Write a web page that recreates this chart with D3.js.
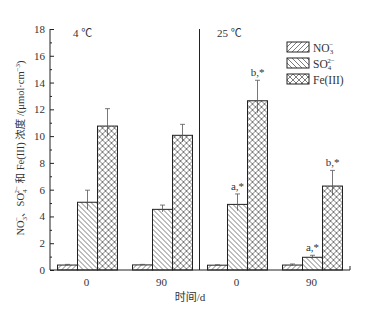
<!DOCTYPE html>
<html>
<head>
<meta charset="utf-8">
<script src="https://cdn.jsdelivr.net/npm/d3@7"></script>
<style>
	body { margin: 0; background: #fff; }
	svg { display: block; }
	text { font-family: "Liberation Serif", "Times New Roman", "Noto Sans CJK SC", serif; fill: #333; }
</style>
</head>
<body>
<div id="chart"></div>
<script>
// data
const panels = ["4 ℃", "25 ℃"];
const days = ["0", "90"];
const species = ["NO3", "SO4", "Fe"];
// values per panel, per day: [NO3, SO4, Fe]
const values4 = [[0.37, 5.06, 10.75], [0.38, 4.53, 10.06]];
const errors4 = [[0.05, 0.9, 1.3], [0.04, 0.32, 0.82]];
const values25 = [[0.36, 4.9, 12.64], [0.37, 0.95, 6.27]];
const errors25 = [[0.03, 0.78, 1.53], [0.08, 0.15, 1.17]];
const notes25 = [["", "a,*", "b,*"], ["", "a,*", "b,*"]];
const yTicks = [0, 2, 4, 6, 8, 10, 12, 14, 16, 18];

const width = 371, height = 315;
const margin = {left: 50, right: 21, top: 29, bottom: 45};
const plotW = width - margin.left - margin.right;
const plotH = height - margin.top - margin.bottom;

const svg = d3.select("#chart").append("svg")
	.attr("width", width)
	.attr("height", height);

// hatch patterns
const defs = svg.append("defs");
const addPattern = (id, size, paths) => {
	let p = defs.append("pattern")
		.attr("id", id)
		.attr("patternUnits", "userSpaceOnUse")
		.attr("width", size)
		.attr("height", size);
	p.append("rect").attr("width", size).attr("height", size).attr("fill", "#fff");
	paths.forEach(d => {
		p.append("path").attr("d", d).attr("stroke", "#444").attr("stroke-width", 0.7).attr("fill", "none");
	});
};
addPattern("hatchNO3", 5, ["M-1,1 L1,-1 M0,5 L5,0 M4,6 L6,4"]);
addPattern("hatchSO4", 5, ["M-1,4 L1,6 M0,0 L5,5 M4,-1 L6,1"]);
addPattern("hatchFe", 6, ["M0,0 L6,6 M6,0 L0,6"]);
const fills = {NO3: "url(#hatchNO3)", SO4: "url(#hatchSO4)", Fe: "url(#hatchFe)"};

const g = svg.append("g").attr("transform", "translate(" + margin.left + "," + margin.top + ")");

const y = d3.scaleLinear().domain([0, 18]).range([plotH, 0]);
const panelX = d3.scaleBand().domain(panels).range([0, plotW]);
const dayX = d3.scaleBand().domain(days).range([0, panelX.bandwidth()]).paddingInner(0.2).paddingOuter(0.1);
const spX = d3.scaleBand().domain(species).range([0, dayX.bandwidth()]);

const drawPanel = (name, vals, errs, notes) => {
	let pg = g.append("g").attr("transform", "translate(" + panelX(name) + ",0)");
	days.forEach((day, di) => {
		let dg = pg.append("g").attr("transform", "translate(" + dayX(day) + ",0)");
		let rows = species.map((s, si) => ({s: s, v: vals[di][si], e: errs[di][si], note: notes ? notes[di][si] : ""}));

		dg.selectAll("rect.bar")
			.data(rows)
			.enter().append("rect")
			.attr("class", "bar")
			.attr("x", d => spX(d.s))
			.attr("y", d => y(d.v))
			.attr("width", spX.bandwidth())
			.attr("height", d => plotH - y(d.v))
			.attr("fill", d => fills[d.s])
			.attr("stroke", "#222")
			.attr("stroke-width", 1);

		let eb = dg.selectAll("g.err")
			.data(rows)
			.enter().append("g")
			.attr("class", "err");
		eb.append("line")
			.attr("x1", d => spX(d.s) + spX.bandwidth() / 2)
			.attr("x2", d => spX(d.s) + spX.bandwidth() / 2)
			.attr("y1", d => y(d.v + d.e))
			.attr("y2", d => y(d.v) + Math.min(12, (y(d.v + d.e) - y(d.v)) * -0.6))
			.attr("stroke", "#555")
			.attr("stroke-width", 0.8);
		eb.append("line")
			.attr("x1", d => spX(d.s) + spX.bandwidth() / 2 - 2.5)
			.attr("x2", d => spX(d.s) + spX.bandwidth() / 2 + 2.5)
			.attr("y1", d => y(d.v + d.e))
			.attr("y2", d => y(d.v + d.e))
			.attr("stroke", "#555")
			.attr("stroke-width", 0.8);

		dg.selectAll("text.note")
			.data(rows.filter(d => d.note))
			.enter().append("text")
			.attr("class", "note")
			.attr("x", d => spX(d.s) + spX.bandwidth() / 2)
			.attr("y", d => y(d.v + d.e) - 4)
			.attr("text-anchor", "middle")
			.attr("font-size", 11)
			.text(d => d.note);

		pg.append("text")
			.attr("x", dayX(day) + dayX.bandwidth() / 2 - 1)
			.attr("y", plotH + 16)
			.attr("text-anchor", "middle")
			.attr("font-size", 11)
			.text(day);
	});
	pg.append("text")
		.attr("x", name === panels[0] ? 23 : 17)
		.attr("y", 8)
		.attr("font-size", 11)
		.text(name);
};

drawPanel(panels[0], values4, errors4, null);
drawPanel(panels[1], values25, errors25, notes25);

// y axis, ticks inside
const yAxis = d3.axisRight(y).tickValues(yTicks).tickSize(4).tickFormat("");
g.append("g").call(yAxis).call(a => a.select(".domain").remove());
g.append("g").call(d3.axisRight(y).tickValues(d3.range(1, 18, 2)).tickSize(2).tickFormat(""))
	.call(a => a.select(".domain").remove());
g.append("line").attr("x1", 0).attr("x2", 0).attr("y1", 0).attr("y2", plotH).attr("stroke", "#222");
g.selectAll("text.ytick")
	.data(yTicks)
	.enter().append("text")
	.attr("class", "ytick")
	.attr("x", -5)
	.attr("y", d => y(d) + 4)
	.attr("text-anchor", "end")
	.attr("font-size", 11)
	.text(d => d);
g.selectAll(".tick line").attr("stroke", "#222");

// x axis baseline and divider
g.append("line").attr("x1", 0).attr("x2", plotW).attr("y1", plotH).attr("y2", plotH).attr("stroke", "#222");
g.append("line").attr("x1", plotW).attr("x2", plotW).attr("y1", plotH).attr("y2", plotH - 4).attr("stroke", "#222");
g.append("line")
	.attr("x1", panelX(panels[1]) - 0.5).attr("x2", panelX(panels[1]) - 0.5)
	.attr("y1", 0).attr("y2", plotH)
	.attr("stroke", "#222");

// x title
svg.append("text")
	.attr("x", 190)
	.attr("y", 301)
	.attr("text-anchor", "middle")
	.attr("font-size", 11)
	.text("时间/d");

// y title
const yt = svg.append("text")
	.attr("transform", "translate(24," + 148 + ") rotate(-90)")
	.attr("text-anchor", "middle")
	.attr("font-size", 10.5);
yt.append("tspan").text("NO");
yt.append("tspan").attr("font-size", 7).attr("dy", 3).text("3");
yt.append("tspan").attr("font-size", 7).attr("dx", -4).attr("dy", -8).text("−");
yt.append("tspan").attr("dy", 5).text("、SO");
yt.append("tspan").attr("font-size", 7).attr("dy", 3).text("4");
yt.append("tspan").attr("font-size", 7).attr("dx", -4).attr("dy", -8).text("2−");
yt.append("tspan").attr("dy", 5).text(" 和 Fe(III) 浓度 /(μmol·cm");
yt.append("tspan").attr("font-size", 7).attr("dy", -4).text("−3");
yt.append("tspan").attr("dy", 4).text(")");

// legend
const legendNames = [["NO", "3", "−"], ["SO", "4", "2−"], ["Fe(III)", "", ""]];
const lg = svg.append("g").attr("transform", "translate(287,42)");
species.forEach((s, i) => {
	let row = lg.append("g").attr("transform", "translate(0," + i * 16 + ")");
	row.append("rect")
		.attr("width", 22)
		.attr("height", 10)
		.attr("fill", fills[s])
		.attr("stroke", "#222")
		.attr("stroke-width", 1);
	let t = row.append("text").attr("x", 26).attr("y", 9.5).attr("font-size", 11.5);
	t.append("tspan").text(legendNames[i][0]);
	if (legendNames[i][1]) {
		t.append("tspan").attr("font-size", 7).attr("dy", 2.5).text(legendNames[i][1]);
		t.append("tspan").attr("font-size", 7).attr("dx", -4).attr("dy", -7).text(legendNames[i][2]);
	}
});
</script>
</body>
</html>
